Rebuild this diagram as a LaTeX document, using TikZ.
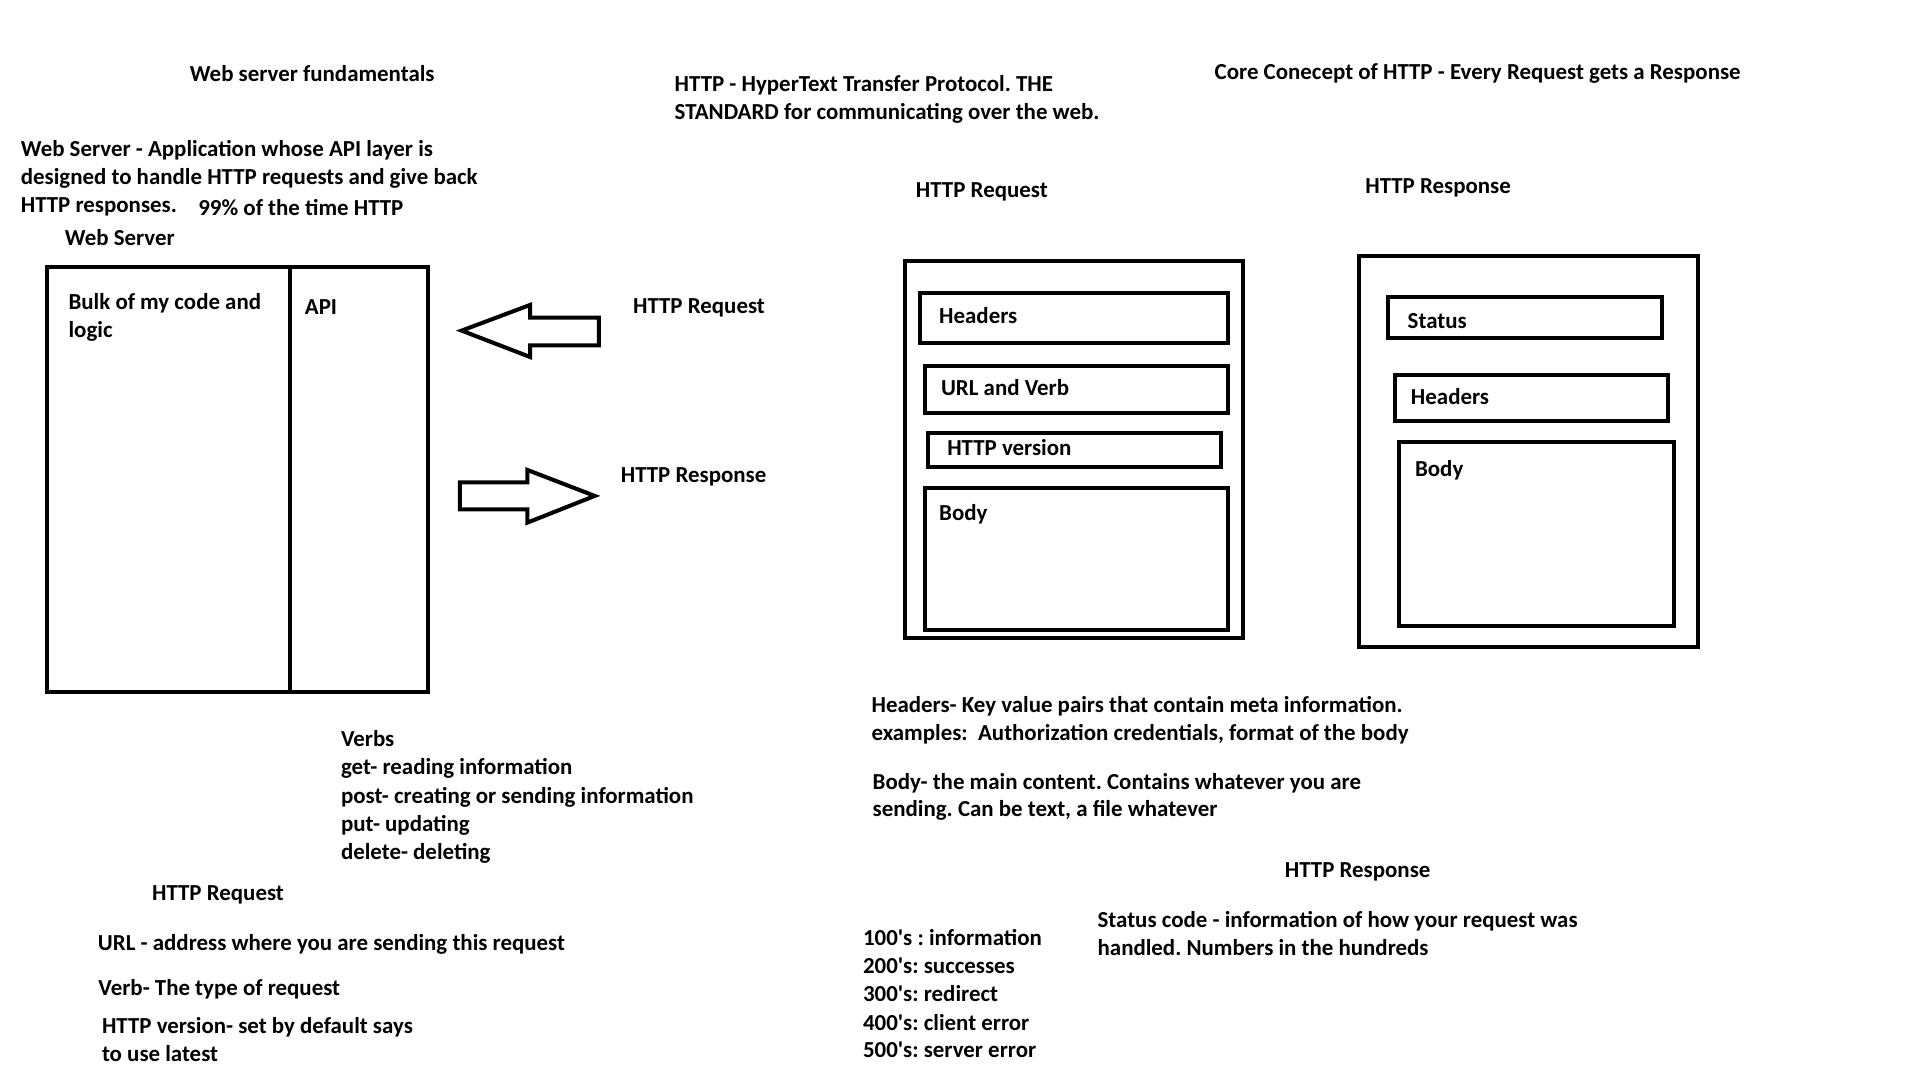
\documentclass[tikz,border=0pt]{standalone}
\usepackage{fontspec}
\setmainfont{Carlito}
\newfontfamily\calfont{Carlito}
\frenchspacing
\begin{document}
\begin{tikzpicture}[x=1pt,y=-1pt,
  txt/.style={anchor=base west,inner sep=0pt,outer sep=0pt,font=\calfont\bfseries\fontsize{18.7}{23}\selectfont},
  boxline/.style={draw=black,line width=3.3pt,line join=miter},
  blockarrow/.style={draw=black,line width=3.3pt,line join=miter,fill=white}]
\useasboundingbox[fill=white] (0,0) rectangle (1568,882);

% titles
\node[txt] (t1) at (155,66.7) {Web server fundamentals};
\node[txt] (t2a) at (551,75) {HTTP - HyperText Transfer Protocol. THE};
\node[txt] (t2b) at (551,98) {STANDARD for communicating over the web.};
\node[txt] (t3) at (992,65) {Core Conecept of HTTP - Every Request gets a Response};

% web server description
\node[txt] (d1) at (17,128) {Web Server - Application whose API layer is};
\node[txt] (d2) at (17,151) {designed to handle HTTP requests and give back};
\node[txt] (d3) at (17,173.4) {HTTP responses.};
\node[txt] (d4) at (162,176.4) {99\% of the time HTTP};
\node[txt] (ws) at (53,200.6) {Web Server};

% web server box
\draw[boxline] (38.4,218) rectangle (349.5,565.5);
\draw[boxline] (237,218) -- (237,566);
\node[txt] (bulk1) at (56,252.5) {Bulk of my code and};
\node[txt] (bulk2) at (56,275.8) {logic};
\node[txt] (api) at (249,256.6) {API};

% block arrows
\draw[blockarrow] (377,270) -- (433,249) -- (433,259.4) -- (489,259.4) -- (489,282) -- (433,282) -- (433,291.6) -- cycle;
\draw[blockarrow] (375.6,394) -- (430.7,394) -- (430.7,383.8) -- (485.7,405) -- (430.7,426.8) -- (430.7,416) -- (375.6,416) -- cycle;
\node[txt] (lreq) at (517,256) {HTTP Request};
\node[txt] (lresp) at (507,394) {HTTP Response};

% HTTP request structure
\node[txt] (hreq) at (748,161) {HTTP Request};
\draw[boxline] (739,213) rectangle (1015,521);
\draw[boxline] (751.3,239) rectangle (1003,280.4);
\draw[boxline] (755.4,298.6) rectangle (1003,337.5);
\draw[boxline] (758,353.3) rectangle (997,381);
\draw[boxline] (755.4,398.8) rectangle (1003,514.5);
\node[txt] (rqh) at (767,264) {Headers};
\node[txt] (rqu) at (768.5,322.6) {URL and Verb};
\node[txt] (rqv) at (773.6,371.6) {HTTP version};
\node[txt] (rqb) at (767,424.7) {Body};

% HTTP response structure
\node[txt] (hresp) at (1115,158) {HTTP Response};
\draw[boxline] (1110,208.8) rectangle (1386.4,528.6);
\draw[boxline] (1133.8,242.3) rectangle (1357,275.8);
\draw[boxline] (1139.2,306.2) rectangle (1362.4,343.8);
\draw[boxline] (1142.8,360.7) rectangle (1367.4,511);
\node[txt] (rss) at (1149.6,268) {Status};
\node[txt] (rsh) at (1152.3,330.7) {Headers};
\node[txt] (rsb) at (1155.6,389.3) {Body};

% explanations right
\node[txt] (e1) at (711.8,581.7) {Headers- Key value pairs that contain meta information.};
\node[txt] (e2) at (711.8,604.9) {examples:\ \ Authorization credentials, format of the body};
\node[txt] (e3) at (712.7,644.6) {Body- the main content. Contains whatever you are};
\node[txt] (e4) at (712.7,667) {sending. Can be text, a file whatever};

% verbs
\node[txt] (v0) at (278.5,609.8) {Verbs};
\node[txt] (v1) at (278.5,632.9) {get- reading information};
\node[txt] (v2) at (278.5,656) {post- creating or sending information};
\node[txt] (v3) at (278.5,679.2) {put- updating};
\node[txt] (v4) at (278.5,701.8) {delete- deleting};

% HTTP request explanation
\node[txt] (q0) at (124.2,735) {HTTP Request};
\node[txt] (q1) at (80,776.4) {URL - address where you are sending this request};
\node[txt] (q2) at (80.4,813) {Verb- The type of request};
\node[txt] (q3) at (83.3,843.9) {HTTP version- set by default says};
\node[txt] (q4) at (83.3,866.5) {to use latest};

% HTTP response explanation
\node[txt] (p0) at (1049.3,716.5) {HTTP Response};
\node[txt] (p1) at (896.4,757.6) {Status code - information of how your request was};
\node[txt] (p2) at (896.4,780.2) {handled. Numbers in the hundreds};
\node[txt] (c1) at (704.8,772.3) {100's : information};
\node[txt] (c2) at (704.8,794.9) {200's: successes};
\node[txt] (c3) at (704.8,818) {300's: redirect};
\node[txt] (c4) at (704.8,841.2) {400's: client error};
\node[txt] (c5) at (704.8,863.8) {500's: server error};
\end{tikzpicture}
\end{document}
